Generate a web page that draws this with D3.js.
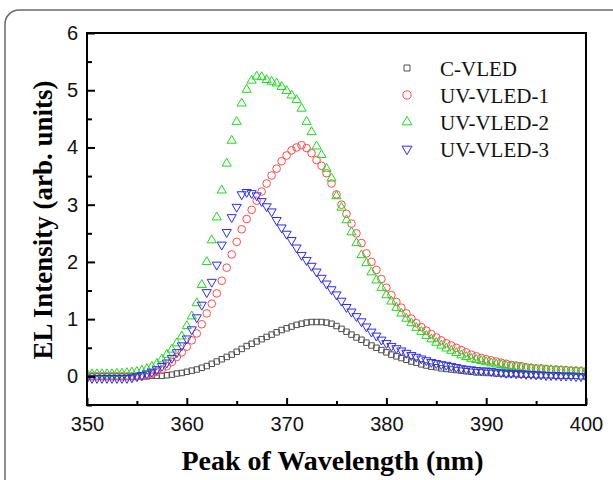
<!DOCTYPE html>
<html>
<head>
<meta charset="utf-8">
<script src="https://cdn.jsdelivr.net/npm/d3@7"></script>
<style>
  body { margin: 0; background: #fff; }
</style>
</head>
<body>
<div id="chart"></div>
<script>
// wavelength grid (nm)
const wavelength = [
  350, 350.5, 351, 351.5, 352, 352.5, 353, 353.5, 354, 354.5,
  355, 355.5, 356, 356.5, 357, 357.5, 358, 358.5, 359, 359.5,
  360, 360.5, 361, 361.5, 362, 362.5, 363, 363.5, 364, 364.5,
  365, 365.5, 366, 366.5, 367, 367.5, 368, 368.5, 369, 369.5,
  370, 370.5, 371, 371.5, 372, 372.5, 373, 373.5, 374, 374.5,
  375, 375.5, 376, 376.5, 377, 377.5, 378, 378.5, 379, 379.5,
  380, 380.5, 381, 381.5, 382, 382.5, 383, 383.5, 384, 384.5,
  385, 385.5, 386, 386.5, 387, 387.5, 388, 388.5, 389, 389.5,
  390, 390.5, 391, 391.5, 392, 392.5, 393, 393.5, 394, 394.5,
  395, 395.5, 396, 396.5, 397, 397.5, 398, 398.5, 399, 399.5,
  400
];

const cVled = [
  0.00, 0.00, 0.00, 0.00, 0.00, 0.00, 0.00, 0.00, 0.00, 0.00,
  0.00, 0.00, 0.00, 0.01, 0.01, 0.01, 0.02, 0.03, 0.05, 0.06,
  0.08, 0.10, 0.12, 0.15, 0.18, 0.22, 0.26, 0.30, 0.34, 0.38,
  0.43, 0.48, 0.53, 0.57, 0.61, 0.65, 0.69, 0.73, 0.77, 0.81,
  0.84, 0.87, 0.90, 0.92, 0.94, 0.95, 0.95, 0.95, 0.94, 0.92,
  0.88, 0.83, 0.78, 0.73, 0.68, 0.64, 0.59, 0.54, 0.50, 0.46,
  0.42, 0.38, 0.35, 0.32, 0.29, 0.26, 0.24, 0.21, 0.19, 0.17,
  0.16, 0.14, 0.13, 0.12, 0.11, 0.10, 0.09, 0.08, 0.07, 0.07,
  0.06, 0.06, 0.05, 0.05, 0.04, 0.04, 0.04, 0.03, 0.03, 0.03,
  0.02, 0.02, 0.02, 0.02, 0.01, 0.01, 0.01, 0.01, 0.01, 0.00,
  0.00
];

const uvVled1 = [
  0.00, 0.00, 0.00, 0.00, 0.00, 0.00, 0.00, 0.00, 0.00, 0.00,
  0.00, 0.00, 0.02, 0.04, 0.08, 0.12, 0.18, 0.25, 0.34, 0.42,
  0.52, 0.63, 0.75, 0.91, 1.10, 1.27, 1.45, 1.67, 1.90, 2.13,
  2.35, 2.57, 2.75, 2.91, 3.07, 3.23, 3.37, 3.51, 3.63, 3.76,
  3.86, 3.95, 4.00, 4.04, 3.99, 3.90, 3.78, 3.68, 3.55, 3.37,
  3.18, 3.00, 2.84, 2.67, 2.50, 2.33, 2.15, 2.00, 1.86, 1.70,
  1.55, 1.42, 1.30, 1.20, 1.10, 1.01, 0.93, 0.86, 0.80, 0.74,
  0.68, 0.63, 0.58, 0.54, 0.50, 0.46, 0.42, 0.38, 0.35, 0.32,
  0.30, 0.28, 0.26, 0.24, 0.22, 0.20, 0.19, 0.18, 0.16, 0.15,
  0.14, 0.14, 0.13, 0.12, 0.12, 0.11, 0.11, 0.10, 0.10, 0.09,
  0.09
];

const uvVled2 = [
  0.04, 0.04, 0.04, 0.04, 0.04, 0.04, 0.05, 0.05, 0.06, 0.07,
  0.08, 0.10, 0.13, 0.17, 0.22, 0.30, 0.38, 0.47, 0.58, 0.70,
  0.88, 1.05, 1.28, 1.60, 2.00, 2.38, 2.78, 3.25, 3.72, 4.12,
  4.45, 4.77, 5.01, 5.17, 5.24, 5.23, 5.18, 5.15, 5.12, 5.06,
  4.99, 4.91, 4.83, 4.68, 4.45, 4.27, 4.02, 3.87, 3.63, 3.46,
  3.15, 2.95, 2.73, 2.52, 2.33, 2.12, 1.98, 1.82, 1.68, 1.55,
  1.42, 1.31, 1.20, 1.10, 1.01, 0.93, 0.85, 0.78, 0.71, 0.65,
  0.59, 0.54, 0.49, 0.45, 0.41, 0.37, 0.34, 0.31, 0.29, 0.27,
  0.25, 0.23, 0.21, 0.20, 0.18, 0.17, 0.16, 0.15, 0.14, 0.13,
  0.12, 0.12, 0.11, 0.11, 0.10, 0.10, 0.09, 0.09, 0.08, 0.08,
  0.08
];

const uvVled3 = [
  -0.03, -0.03, -0.03, -0.03, -0.03, -0.03, -0.03, -0.03, -0.03, -0.02,
  0.00, 0.02, 0.05, 0.08, 0.12, 0.18, 0.24, 0.32, 0.42, 0.54,
  0.66, 0.82, 1.03, 1.25, 1.47, 1.65, 1.95, 2.30, 2.52, 2.78,
  2.96, 3.18, 3.22, 3.20, 3.16, 3.06, 2.97, 2.88, 2.73, 2.60,
  2.49, 2.38, 2.25, 2.12, 2.03, 1.93, 1.83, 1.72, 1.62, 1.52,
  1.43, 1.32, 1.21, 1.13, 1.05, 0.96, 0.87, 0.78, 0.71, 0.64,
  0.58, 0.53, 0.49, 0.45, 0.41, 0.37, 0.34, 0.31, 0.28, 0.25,
  0.23, 0.21, 0.20, 0.18, 0.16, 0.14, 0.13, 0.12, 0.11, 0.10,
  0.10, 0.09, 0.08, 0.07, 0.06, 0.06, 0.05, 0.05, 0.04, 0.04,
  0.03, 0.03, 0.02, 0.02, 0.02, 0.01, 0.01, 0.01, 0.00, 0.00,
  0.00
];

const seriesNames = ["C-VLED", "UV-VLED-1", "UV-VLED-2", "UV-VLED-3"];
const xTicks = [350, 360, 370, 380, 390, 400];
const xMinorTicks = [355, 365, 375, 385, 395];
const yTicks = [0, 1, 2, 3, 4, 5, 6];
const yMinorTicks = [-0.5, 0.5, 1.5, 2.5, 3.5, 4.5, 5.5];

const width = 613, height = 480;
const margin = {top: 33, right: 27, bottom: 75, left: 87};
const plotW = width - margin.left - margin.right;
const plotH = height - margin.top - margin.bottom;

const styles = [
  {color: "#505050", symbol: d3.symbolSquare, size: 30, rotate: 0},
  {color: "#ff4a4a", symbol: d3.symbolCircle, size: 46, rotate: 0},
  {color: "#1ed81e", symbol: d3.symbolTriangle, size: 36, rotate: 0},
  {color: "#2b2bff", symbol: d3.symbolTriangle, size: 36, rotate: 180}
];
const allValues = [cVled, uvVled1, uvVled2, uvVled3];

const xScale = d3.scaleLinear().domain([350, 400]).range([0, plotW]);
const yScale = d3.scaleLinear().domain([-0.5, 6]).range([plotH, 0]);

const svg = d3.select("#chart").append("svg")
  .attr("width", width)
  .attr("height", height)
  .style("font-family", "'Liberation Sans', Arial, sans-serif");

// rounded outer frame
svg.append("rect")
  .attr("x", 5).attr("y", 10)
  .attr("width", 640).attr("height", 500)
  .attr("rx", 14)
  .attr("fill", "none")
  .attr("stroke", "#6a6a6a")
  .attr("stroke-width", 1.5);

const g = svg.append("g")
  .attr("transform", `translate(${margin.left}, ${margin.top})`);

g.append("clipPath").attr("id", "plotClip")
  .append("rect").attr("width", plotW).attr("height", plotH);

// markers
const plot = g.append("g").attr("clip-path", "url(#plotClip)");
allValues.forEach((vals, i) => {
  const st = styles[i];
  const path = d3.symbol().type(st.symbol).size(st.size)();
  plot.append("g").selectAll("path")
    .data(vals.map((v, j) => [wavelength[j], v]))
    .join("path")
      .attr("d", path)
      .attr("transform", d => `translate(${xScale(d[0])}, ${yScale(d[1])}) rotate(${st.rotate})`)
      .attr("fill", "none")
      .attr("stroke", st.color)
      .attr("stroke-width", 1);
});

// axes, ticks pointing inward
const bottomAxis = d3.axisBottom(xScale).tickValues(xTicks).tickSize(-7).tickPadding(12);
const bottomMinor = d3.axisBottom(xScale).tickValues(xMinorTicks).tickSize(-4).tickFormat("");
const leftAxis = d3.axisLeft(yScale).tickValues(yTicks).tickSize(-8).tickPadding(9)
  .tickFormat(d3.format("d"));
const leftMinor = d3.axisLeft(yScale).tickValues(yMinorTicks).tickSize(-5).tickFormat("");

[
  g.append("g").attr("transform", `translate(0, ${plotH})`).call(bottomAxis),
  g.append("g").attr("transform", `translate(0, ${plotH})`).call(bottomMinor),
  g.append("g").call(leftAxis),
  g.append("g").call(leftMinor)
].forEach(ax => {
  ax.select(".domain").remove();
  ax.selectAll("line").attr("stroke", "#000").attr("stroke-width", 2);
  ax.selectAll("text")
    .attr("fill", "#111")
    .style("font-family", "'Liberation Sans', Arial, sans-serif")
    .style("font-size", "20px");
});

g.append("rect")
  .attr("width", plotW).attr("height", plotH)
  .attr("fill", "none")
  .attr("stroke", "#000")
  .attr("stroke-width", 2);

// axis titles
svg.append("text")
  .attr("x", margin.left + plotW / 2 - 4)
  .attr("y", 470)
  .attr("text-anchor", "middle")
  .style("font-family", "'Liberation Serif', 'Times New Roman', serif")
  .style("font-weight", "bold")
  .style("font-size", "28px")
  .text("Peak of Wavelength (nm)");

svg.append("text")
  .attr("transform", `translate(52, 220) rotate(-90)`)
  .attr("text-anchor", "middle")
  .style("font-family", "'Liberation Serif', 'Times New Roman', serif")
  .style("font-weight", "bold")
  .style("font-size", "27px")
  .text("EL Intensity (arb. units)");

// legend
const legend = svg.append("g").attr("transform", "translate(407, 68)");
seriesNames.forEach((name, i) => {
  const st = styles[i];
  const row = legend.append("g").attr("transform", `translate(0, ${i * 27})`);
  row.append("path")
    .attr("d", d3.symbol().type(st.symbol).size(st.size + 6)())
    .attr("transform", `rotate(${st.rotate})`)
    .attr("fill", "none")
    .attr("stroke", st.color)
    .attr("stroke-width", 1);
  row.append("text")
    .attr("x", 33)
    .attr("y", 8)
    .style("font-family", "'Liberation Serif', 'Times New Roman', serif")
    .style("font-size", "21px")
    .attr("fill", "#111")
    .text(name);
});
</script>
</body>
</html>
